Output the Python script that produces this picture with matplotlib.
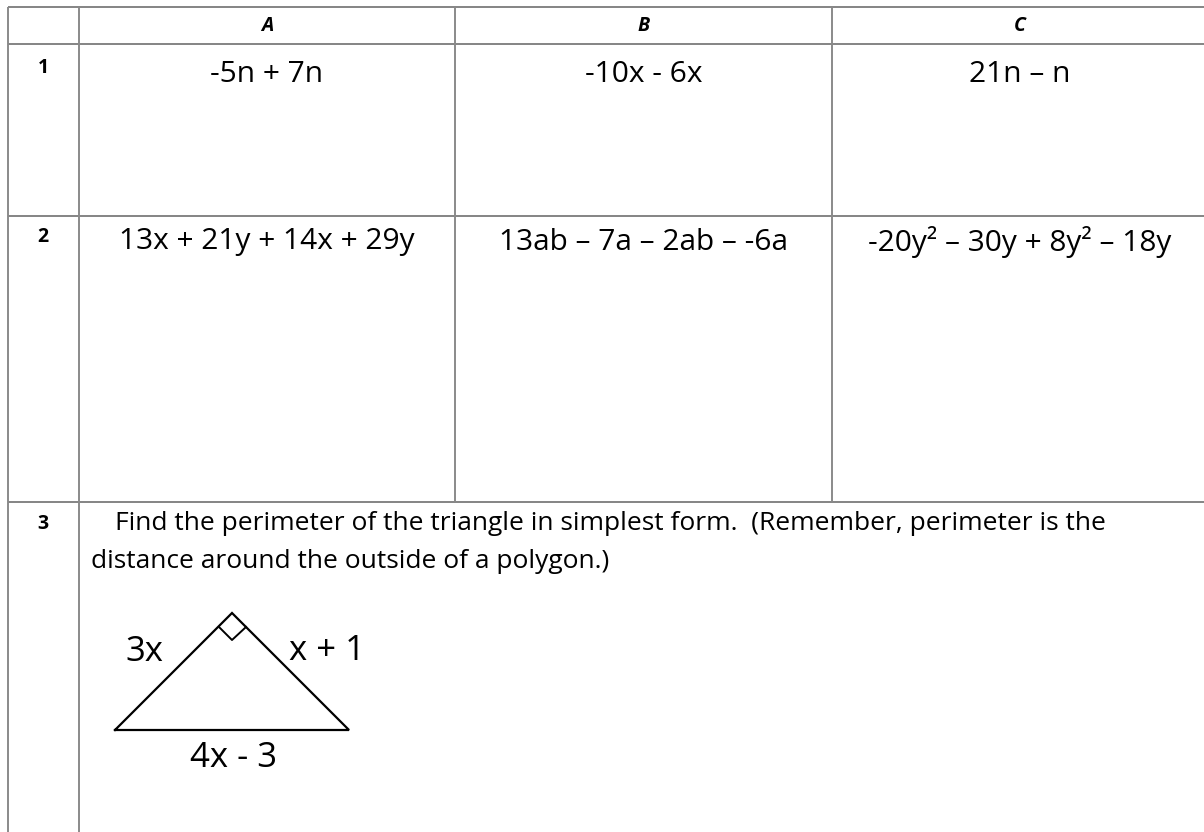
import matplotlib
matplotlib.use('Agg')
import matplotlib.pyplot as plt

# table layout (pixel units)
col_edges = [8, 79, 455, 832, 1208]
row_edges = [7, 44, 216, 502, 832]
col_names = ['A', 'B', 'C']
row_names = ['1', '2', '3']

row1 = ['-5n + 7n', '-10x - 6x', '21n \u2013 n']
row2 = ['13x + 21y + 14x + 29y', '13ab \u2013 7a \u2013 2ab \u2013 -6a',
        '-20y\u00b2 \u2013 30y + 8y\u00b2 \u2013 18y']
row3_line1 = 'Find the perimeter of the triangle in simplest form.  (Remember, perimeter is the'
row3_line2 = 'distance around the outside of a polygon.)'

# triangle for question 3
tri_x = [115, 232, 349, 115]
tri_y = [730, 613, 730, 730]
sq_x = [219, 232, 246]
sq_y = [627, 640, 627]
side_labels = ['3x', 'x + 1', '4x - 3']
side_x = [144, 327, 233]
side_y = [652, 651, 758]

plt.rcParams['font.family'] = ['Open Sans', 'DejaVu Sans']

fig = plt.figure(figsize=(12.04, 8.32), dpi=100)
ax = fig.add_axes([0, 0, 1, 1])
ax.set_xlim(0, 1204)
ax.set_ylim(832, 0)
ax.axis('off')

grid_c = '#8a8a8a'
# horizontal lines (no bottom border, it runs off the page)
for y in row_edges[:-1]:
    ax.hlines(y, col_edges[0], col_edges[-1], color='#707070', lw=1.2)
# vertical lines: inner column lines stop at row 3 where the cell is merged
ax.vlines(col_edges[0], row_edges[0], row_edges[-1], color=grid_c, lw=1.4)
ax.vlines(col_edges[1], row_edges[0], row_edges[-1], color=grid_c, lw=1.4)
for x in col_edges[2:4]:
    ax.vlines(x, row_edges[0], row_edges[3], color=grid_c, lw=1.4)

# header
for i, name in enumerate(col_names):
    xc = (col_edges[i + 1] + col_edges[i + 2]) / 2
    ax.text(xc, 26, name, ha='center', va='center', fontsize=14,
            fontweight='bold', style='italic')

row_label_y = [68, 237, 524]
for name, y in zip(row_names, row_label_y):
    ax.text(43, y, name, ha='center', va='center', fontsize=14, fontweight='bold')

for i, txt in enumerate(row1):
    xc = (col_edges[i + 1] + col_edges[i + 2]) / 2
    ax.text(xc, 75, txt, ha='center', va='center', fontsize=21.5)
for i, txt in enumerate(row2):
    xc = (col_edges[i + 1] + col_edges[i + 2]) / 2
    ax.text(xc, 242, txt, ha='center', va='center', fontsize=21.5)

ax.text(115, 524, row3_line1, ha='left', va='center', fontsize=19)
ax.text(91, 561, row3_line2, ha='left', va='center', fontsize=19)

ax.plot(tri_x, tri_y, color='black', lw=1.6, solid_joinstyle='miter')
ax.plot(sq_x, sq_y, color='black', lw=1.4)
for lab, x, y in zip(side_labels, side_x, side_y):
    ax.text(x, y, lab, ha='center', va='center', fontsize=25)

fig.savefig('out.png', dpi=100, facecolor='white')
